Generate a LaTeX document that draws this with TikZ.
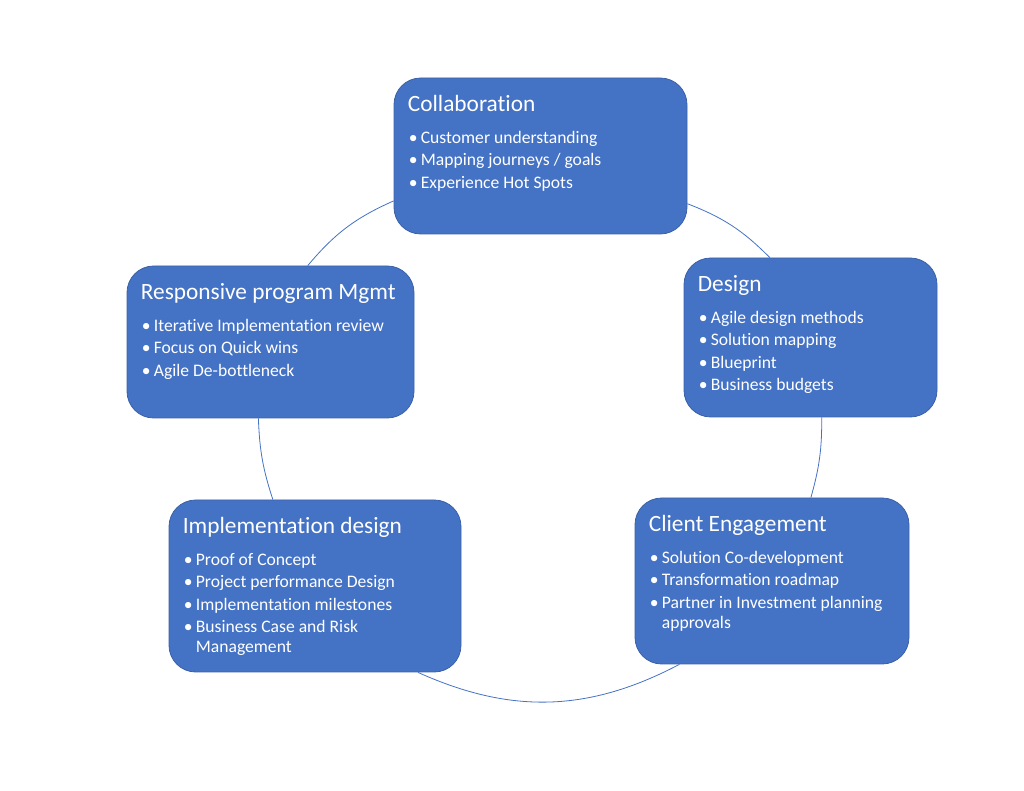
\documentclass[tikz,border=0pt]{standalone}
\usepackage{fontspec}
\setmainfont{Carlito}[Ligatures=NoCommon]
\usetikzlibrary{calc}
\definecolor{stageblue}{HTML}{4472C4}
\tikzset{
stage/.style={rectangle, rounded corners=20pt, fill=stageblue, draw=stageblue!85!black, line width=0.6pt, inner sep=0pt},
stagetitle/.style={anchor=base west, inner sep=0pt, text=white, font=\fontsize{17.5}{21}\selectfont},
stagelist/.style={anchor=base west, inner sep=0pt, text=white, font=\fontsize{13.2}{15}\selectfont},
ring/.style={stageblue, line width=0.6pt},
}
\newcommand{\stagebullet}{\makebox[9pt][l]{\textbullet}}

\begin{document}
\begin{tikzpicture}[x=0.75pt, y=0.75pt]
    \useasboundingbox (0,0) rectangle (1024,791);

    % boxes
    \node[stage, minimum width=219.75pt, minimum height=117pt] (collab) at (540.5,635) {};
    \node[stage, minimum width=189.75pt, minimum height=119.25pt] (design) at (810.5,453.5) {};
    \node[stage, minimum width=205.5pt, minimum height=124.5pt] (client) at (772,210) {};
    \node[stage, minimum width=219pt, minimum height=129pt] (impl) at (315,205) {};
    \node[stage, minimum width=215.25pt, minimum height=114pt] (respmgmt) at (270.5,449) {};

    % the cycle
    \draw[ring] (respmgmt.64.6) to[bend left=13] (collab.197.2);
    \draw[ring] (collab.342.8) to[bend left=12] (design.117.3);
    \draw[ring] (design.278.6) to[bend left=8] (client.65);
    \draw[ring] (client.222.5) to[bend left=26] (impl.320.5);
    \draw[ring] (impl.116) to[bend left=8] (respmgmt.261.7);

    % texts
    \node[stagetitle] (collab-title) at ($(collab.north west)+(14,-33.5)$) {Collaboration};
    \node[stagelist] (collab-list) at ($(collab.north west)+(15,-65.5)$) {%
        \begin{tabular}[t]{@{}l@{}l@{}}
        \stagebullet & Customer understanding\\[1.9pt]
        \stagebullet & Mapping journeys / goals\\[1.9pt]
        \stagebullet & Experience Hot Spots
        \end{tabular}};

    \node[stagetitle] (design-title) at ($(design.north west)+(14,-33.5)$) {Design};
    \node[stagelist] (design-list) at ($(design.north west)+(15,-65.5)$) {%
        \begin{tabular}[t]{@{}l@{}l@{}}
        \stagebullet & Agile design methods\\[1.9pt]
        \stagebullet & Solution mapping\\[1.9pt]
        \stagebullet & Blueprint\\[1.9pt]
        \stagebullet & Business budgets
        \end{tabular}};

    \node[stagetitle] (client-title) at ($(client.north west)+(14,-33.5)$) {Client Engagement};
    \node[stagelist] (client-list) at ($(client.north west)+(15,-65.5)$) {%
        \begin{tabular}[t]{@{}l@{}l@{}}
        \stagebullet & Solution Co-development\\[1.9pt]
        \stagebullet & Transformation roadmap\\[1.9pt]
        \stagebullet & Partner in Investment planning\\
                     & approvals
        \end{tabular}};

    \node[stagetitle] (impl-title) at ($(impl.north west)+(14,-33.5)$) {Implementation design};
    \node[stagelist] (impl-list) at ($(impl.north west)+(15,-65.5)$) {%
        \begin{tabular}[t]{@{}l@{}l@{}}
        \stagebullet & Proof of Concept\\[1.9pt]
        \stagebullet & Project performance Design\\[1.9pt]
        \stagebullet & Implementation milestones\\[1.9pt]
        \stagebullet & Business Case and Risk\\
                     & Management
        \end{tabular}};

    \node[stagetitle] (respmgmt-title) at ($(respmgmt.north west)+(14,-33.5)$) {Responsive program Mgmt};
    \node[stagelist] (respmgmt-list) at ($(respmgmt.north west)+(15,-65.5)$) {%
        \begin{tabular}[t]{@{}l@{}l@{}}
        \stagebullet & Iterative Implementation review\\[1.9pt]
        \stagebullet & Focus on Quick wins\\[1.9pt]
        \stagebullet & Agile De-bottleneck
        \end{tabular}};
\end{tikzpicture}
\end{document}
